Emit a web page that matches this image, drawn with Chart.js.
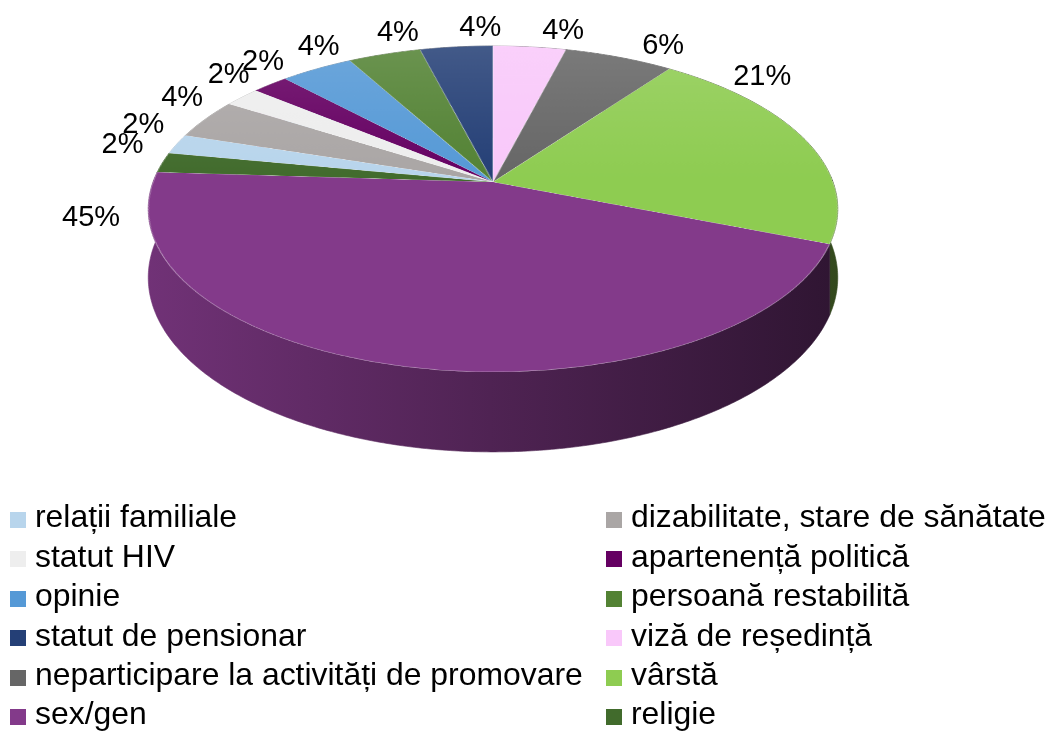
<!DOCTYPE html>
<html>
<head>
<meta charset="utf-8">
<script src="https://cdn.jsdelivr.net/npm/chart.js@4.4.1/dist/chart.umd.min.js"></script>
<style>
  html, body { margin: 0; padding: 0; background: #fff; }
  #wrap { position: relative; width: 1046px; height: 731px; overflow: hidden; }
  #chart { position: absolute; left: 0; top: 0; }
  #legend {
    position: absolute; left: 0; top: 0; width: 1046px; height: 731px;
    font-family: "Liberation Sans", Arial, sans-serif; font-size: 31.9px; color: #000;
  }
  .item { position: absolute; line-height: 39px; white-space: nowrap; }
  .box { position: absolute; width: 16px; height: 16px; }
</style>
</head>
<body>
<div id="wrap">
  <canvas id="chart" width="1046" height="731"></canvas>
  <div id="legend"></div>
</div>
<script>
// ── Data ────────────────────────────────────────────────────────────────────
const categories = [
  "relații familiale",
  "dizabilitate, stare de sănătate",
  "statut HIV",
  "apartenență politică",
  "opinie",
  "persoană restabilită",
  "statut de pensionar",
  "viză de reședință",
  "neparticipare la activități de promovare",
  "vârstă",
  "sex/gen",
  "religie",
];
const shares = [2, 4, 2, 2, 4, 4, 4, 4, 6, 21, 45, 2];
const sliceColors = [
  "#B8D5EC", "#AAA6A5", "#EEEEEE", "#650062", "#5599D6", "#538234",
  "#243F76", "#F9C8FA", "#666666", "#8ECC51", "#833A8A", "#416B2C",
];

// ── 3D look (perspective of the tilted disc) ────────────────────────────────
const view = { x: 493, y: 182, sx: 340, c: 158.5, b: 0.1656, depth: 66.7 };

function project(X, Z) {
  const w = 1 - view.b * Z;
  return [view.x + (view.sx * X) / w, view.y + (view.c * Z) / w];
}

function rgbOf(hex) {
  const n = parseInt(hex.slice(1), 16);
  return [(n >> 16) & 255, (n >> 8) & 255, n & 255];
}

function shade(hex, f) {
  const [r, g, b] = rgbOf(hex).map((v) => Math.round(v * f));
  return `rgb(${r},${g},${b})`;
}

function tint(hex, t) {
  const [r, g, b] = rgbOf(hex).map((v) => Math.round(v + (255 - v) * t));
  return `rgb(${r},${g},${b})`;
}

function zAt(y) {
  const yp = y - view.y;
  return Math.max(-1, Math.min(1, yp / (view.c + view.b * yp)));
}

function normAngle(a) {
  let t = a % (2 * Math.PI);
  if (t > Math.PI) t -= 2 * Math.PI;
  if (t < -Math.PI) t += 2 * Math.PI;
  return t;
}

// pick where the percentage label sits along a slice (angle in canvas radians)
function labelAngle(arc) {
  const s = arc.startAngle, e = arc.endAngle, span = e - s;
  const mid = (s + e) / 2;
  const fromTop = (a) => Math.abs(normAngle(a + Math.PI / 2));
  let a = mid;
  if (span > Math.PI / 4 && fromTop(mid) > Math.PI / 4) {
    a = fromTop(s) < fromTop(e) ? s + 0.12 * span : e - 0.12 * span;
  }
  return a + (5 * Math.PI) / 180;
}

// slight light-from-the-back sheen on the top faces
function topFill(context) {
  const base = sliceColors[context.dataIndex];
  const area = context.chart.chartArea;
  if (!area) return base;
  const cy = (area.top + area.bottom) / 2;
  const r = Math.min(area.right - area.left, area.bottom - area.top) / 2;
  const g = context.chart.ctx.createLinearGradient(0, cy - r, 0, cy);
  g.addColorStop(0, tint(base, 0.14));
  g.addColorStop(1, base);
  return g;
}

const pie3d = {
  id: "pie3d",
  afterDatasetsDraw(chart) {
    const ctx = chart.ctx;
    const arcs = chart.getDatasetMeta(0).data;
    const R = arcs[0].outerRadius, cx = arcs[0].x, cy = arcs[0].y;

    const off = document.createElement("canvas");
    off.width = chart.canvas.width;
    off.height = chart.canvas.height;
    off.getContext("2d").drawImage(chart.canvas, 0, 0);

    ctx.save();
    ctx.setTransform(1, 0, 0, 1, 0, 0);
    ctx.clearRect(0, 0, off.width, off.height);

    // side walls
    arcs.forEach((arc, i) => {
      const s = arc.startAngle, e = arc.endAngle;
      const n = Math.max(2, Math.ceil((e - s) / 0.01));
      const top = [], bot = [];
      for (let k = 0; k <= n; k++) {
        const phi = s + ((e - s) * k) / n;
        const X = Math.cos(phi), Z = Math.sin(phi);
        const p = project(X, Z);
        const d = view.depth / (1 - view.b * Z);
        top.push(p);
        bot.push([p[0], p[1] + d]);
      }
      ctx.beginPath();
      ctx.moveTo(top[0][0], top[0][1]);
      top.forEach((p) => ctx.lineTo(p[0], p[1]));
      for (let k = bot.length - 1; k >= 0; k--) ctx.lineTo(bot[k][0], bot[k][1]);
      ctx.closePath();
      const g = ctx.createLinearGradient(view.x - 350, 0, view.x + 345, 0);
      g.addColorStop(0, shade(sliceColors[i], 0.86));
      g.addColorStop(0.5, shade(sliceColors[i], 0.6));
      g.addColorStop(1, shade(sliceColors[i], 0.36));
      ctx.fillStyle = g;
      ctx.strokeStyle = g;
      ctx.lineWidth = 0.6;
      ctx.fill();
      ctx.stroke();
    });

    // top surface: warp the flat pie row by row
    const yTop = view.y - view.c / (1 + view.b);
    const yBot = view.y + view.c / (1 - view.b);
    for (let yd = Math.floor(yTop); yd < Math.ceil(yBot); yd++) {
      const z0 = zAt(yd), z1 = zAt(yd + 1);
      if (z1 <= z0) continue;
      const zm = (z0 + z1) / 2;
      const w = (2 * view.sx) / (1 - view.b * zm);
      ctx.drawImage(off, cx - R, cy + z0 * R, 2 * R, (z1 - z0) * R, view.x - w / 2, yd, w, 1);
    }

    // percentage labels
    ctx.fillStyle = "#000";
    ctx.font = '29px "Liberation Sans", Arial, sans-serif';
    ctx.textAlign = "center";
    ctx.textBaseline = "middle";
    arcs.forEach((arc, i) => {
      const a = labelAngle(arc);
      const p = project(1.16 * Math.cos(a), 1.16 * Math.sin(a));
      ctx.fillText(`${shares[i]}%`, p[0], p[1]);
    });
    ctx.restore();
  },
};

new Chart(document.getElementById("chart"), {
  type: "pie",
  data: {
    labels: categories,
    datasets: [{
      data: shares,
      backgroundColor: topFill,
      borderColor: "rgba(255,255,255,0.35)",
      borderWidth: 1,
    }],
  },
  options: {
    responsive: false,
    animation: false,
    events: [],
    rotation: -79.2,
    plugins: { legend: { display: false }, tooltip: { enabled: false } },
  },
  plugins: [pie3d],
});

// ── Legend (two columns, row-major like the original) ───────────────────────
const legend = document.getElementById("legend");
categories.forEach((name, i) => {
  const col = i % 2, row = Math.floor(i / 2);
  const baseline = 528 + 39.4 * row;
  const box = document.createElement("div");
  box.className = "box";
  box.style.left = (col ? 606 : 10) + "px";
  box.style.top = baseline - 16 + "px";
  box.style.background = sliceColors[i];
  const item = document.createElement("div");
  item.className = "item";
  item.style.left = (col ? 631 : 35) + "px";
  item.style.top = baseline - 30.6 + "px";
  item.textContent = name;
  legend.appendChild(box);
  legend.appendChild(item);
});
</script>
</body>
</html>
